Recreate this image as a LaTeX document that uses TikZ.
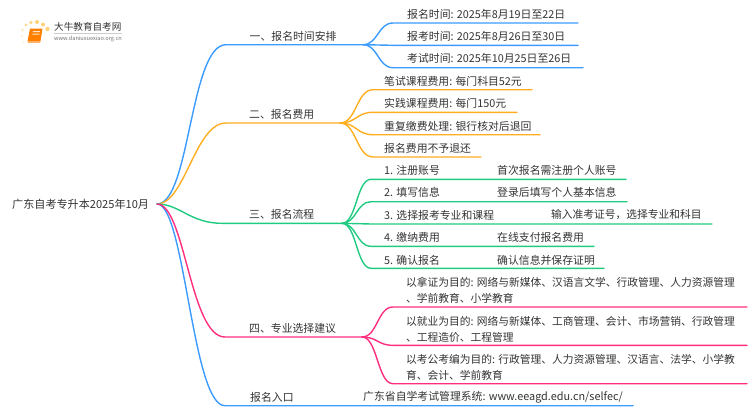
\documentclass[tikz,border=0pt]{standalone}
\usepackage{fontspec}
\usetikzlibrary{calc}
\setmainfont{Noto Sans CJK SC}
\definecolor{cblue}{HTML}{3B9BFF}
\definecolor{corange}{HTML}{FFAE1F}
\definecolor{cgreen}{HTML}{1FCB80}
\definecolor{cpink}{HTML}{FF2E7E}
\definecolor{ctext}{HTML}{333333}
\definecolor{cdot}{HTML}{FFD27A}
\tikzset{
  txt/.style={anchor=west,inner sep=0pt,font=\fontsize{10.85}{15.8}\selectfont,text=ctext,align=left},
  txtlong/.style={txt,font=\fontsize{10.75}{15.8}\selectfont},
  txtroot/.style={txt,font=\fontsize{11.1}{15.8}\selectfont},
  lnk/.style={line width=1.4pt,line cap=round},
}
% colour, from, to, end: S-curve with controls at half way
\newcommand{\bcurve}[4]{%
  \coordinate (tmpm) at ($(#2)!.5!(#3)$);
  \draw[lnk,#1] (#2) .. controls (tmpm |- #2) and (tmpm |- #3) .. (#3) -- (#4);
}
\begin{document}
\begin{tikzpicture}[x=1pt,y=-1pt]
\useasboundingbox (0,0) rectangle (750,410);
% logo
\foreach \a/\b/\r/\o in {23.5/42/1.0/.3,22/36/1.2/.4,22.5/30/1.4/.6,26/25/1.6/.8,31/22.5/1.8/.9,37/22/2/1,43/24.5/2/1,47.5/29/2.2/1}
  \fill[cdot,opacity=\o] (\a,\b) circle (\r);
\fill[orange] (30,28.5) -- (42.5,28.5) -- (40.5,41) -- (27.5,41) -- cycle;
\fill[orange!60!white] (27.5,41) -- (40.5,41) -- (40,42.8) -- (28,42.8) -- cycle;
\fill[white!80!orange] (33,31) -- (40,31) -- (39.8,32) -- (32.8,32) -- cycle;
\fill[white!80!orange] (32.6,33.5) -- (39.6,33.5) -- (39.4,34.5) -- (32.4,34.5) -- cycle;
\node[anchor=west,inner sep=0pt,font=\fontsize{9.6}{10}\selectfont,text=ctext] (logo) at (54,27) {大牛教育自考网};
\draw[black!20,line width=.4pt] (54,33) -- (122,33);
\node[anchor=west,inner sep=0pt,font=\fontsize{5.6}{6}\selectfont,text=black!55] (logourl) at (54,38.7) {www.daniuxuexiao.org.cn};
% root
\node[txtroot] (root) at (12,204) {广东自考专升本2025年10月};
\coordinate (R) at (157,204);
% branch coordinates
\coordinate (b1s) at (226,44.7); \coordinate (b1e) at (363,44.7);
\coordinate (b2s) at (226,123); \coordinate (b2e) at (340,123);
\coordinate (b3s) at (222,223.3); \coordinate (b3e) at (342,223.3);
\coordinate (b4s) at (225,337); \coordinate (b4e) at (362,337);
\coordinate (b5s) at (225,405.7); \coordinate (b5e) at (633,405.7);
\draw[lnk,cblue] (R) .. controls (190,204) and (190,44.7) .. (b1s) -- (b1e);
\draw[lnk,corange] (R) .. controls (185,204) and (195,123) .. (b2s) -- (b2e);
\draw[lnk,cgreen] (R) .. controls (180,204) and (190,223.3) .. (b3s) -- (b3e);
\draw[lnk,cblue] (R) .. controls (185,204) and (192,405.7) .. (b5s) -- (b5e);
\draw[lnk,cpink] (R) .. controls (185,204) and (190,337) .. (b4s) -- (b4e);
\node[txt] (n1) at (249.5,36.3) {一、报名时间安排};
\node[txt] (n2) at (249,114.7) {二、报名费用};
\node[txt] (n3) at (249,214.7) {三、报名流程};
\node[txt] (n4) at (249,328.7) {四、专业选择建议};
\node[txt] (n5) at (250,397) {报名入口};
\node[txt] (n51) at (363,397) {广东省自学考试管理系统: www.eeagd.edu.cn/selfec/};
% group 1
\foreach \n/\y/\e in {a/23/578,b/45.3/578,c/67.7/583}{
  \coordinate (s\n) at (393,\y); \coordinate (e\n) at (\e,\y);
  \bcurve{cblue}{b1e}{s\n}{e\n}
}
\node[txt] (t1a) at (407,14) {报名时间: 2025年8月19日至22日};
\node[txt] (t1b) at (407,36) {报考时间: 2025年8月26日至30日};
\node[txt] (t1c) at (407,58.7) {考试时间: 2025年10月25日至26日};
% group 2
\foreach \n/\y/\e in {a/89.7/532,b/112.3/517,c/134.7/540,d/157/481}{
  \coordinate (s\n) at (373,\y); \coordinate (e\n) at (\e,\y);
  \bcurve{corange}{b2e}{s\n}{e\n}
}
\node[txt] (t2a) at (384,81) {笔试课程费用: 每门科目52元};
\node[txt] (t2b) at (384,103) {实践课程费用: 每门150元};
\node[txt] (t2c) at (384,126) {重复缴费处理: 银行核对后退回};
\node[txt] (t2d) at (384,148) {报名费用不予退还};
% group 3
\foreach \n/\y/\e in {a/179.3/626,b/201.7/627,c/224/712,d/246.3/594,f/268.3/604}{
  \coordinate (s\n) at (371,\y); \coordinate (e\n) at (\e,\y);
  \bcurve{cgreen}{b3e}{s\n}{e\n}
}
\node[txt] (t3a) at (384,170) {1. 注册账号};
\node[txt] (t3b) at (384,192) {2. 填写信息};
\node[txt] (t3c) at (384,215) {3. 选择报考专业和课程};
\node[txt] (t3d) at (384,237) {4. 缴纳费用};
\node[txt] (t3e) at (384,260) {5. 确认报名};
\node[txt] (u3a) at (497,170) {首次报名需注册个人账号};
\node[txt] (u3b) at (497,192) {登录后填写个人基本信息};
\node[txtlong] (u3c) at (551,215) {输入准考证号，选择专业和科目};
\node[txt] (u3d) at (497,237) {在线支付报名费用};
\node[txt] (u3e) at (497,260) {确认信息并保存证明};
% group 4
\foreach \n/\y in {a/307,b/345.3,c/383.7}{
  \coordinate (s\n) at (393,\y); \coordinate (e\n) at (747,\y);
  \bcurve{cpink}{b4e}{s\n}{e\n}
}
\node[txtlong] (t4a) at (406,290) {以拿证为目的: 网络与新媒体、汉语言文学、行政管理、人力资源管理\\、学前教育、小学教育};
\node[txtlong] (t4b) at (406,329) {以就业为目的: 网络与新媒体、工商管理、会计、市场营销、行政管理\\、工程造价、工程管理};
\node[txtlong] (t4c) at (406,367) {以考公考编为目的: 行政管理、人力资源管理、汉语言、法学、小学教\\育、会计、学前教育};
\end{tikzpicture}
\end{document}
